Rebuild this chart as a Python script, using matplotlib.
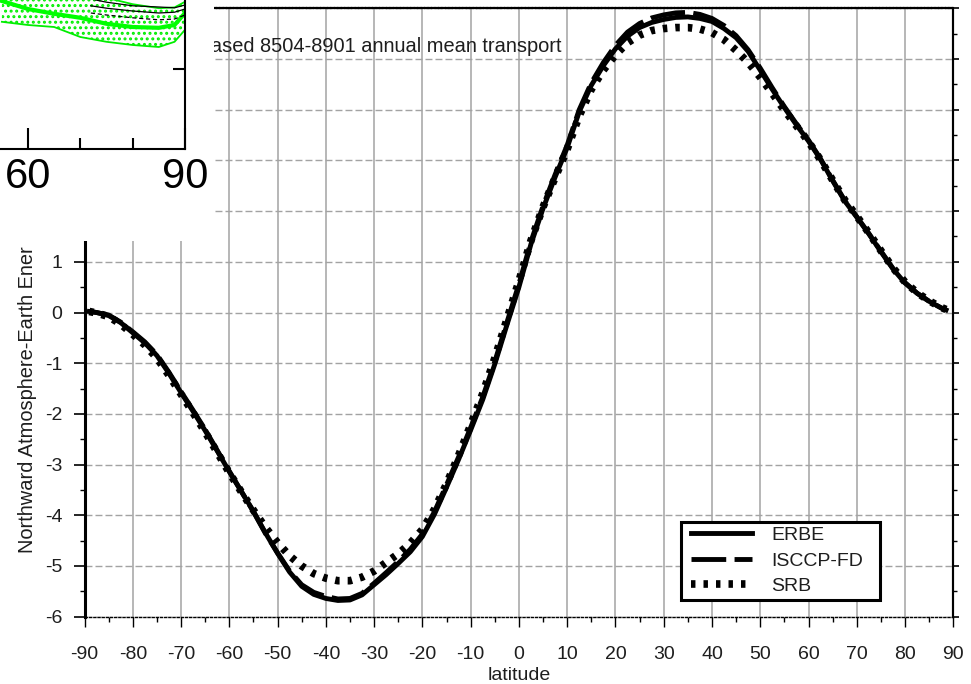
import numpy as np
import matplotlib
matplotlib.use("Agg")
import matplotlib.pyplot as plt
from matplotlib.lines import Line2D
from matplotlib.legend_handler import HandlerLine2D
from matplotlib.ticker import MultipleLocator, FixedLocator, NullFormatter

plt.rcParams["font.family"] = ["Liberation Sans", "DejaVu Sans"]
plt.rcParams["lines.scale_dashes"] = False
plt.rcParams["axes.unicode_minus"] = False
plt.rcParams["hatch.linewidth"] = 1.4

# ---- main panel data: northward atmosphere-earth energy transport (PW) ----
latitude = [-89, -87.5, -85, -82.5, -80, -77.5, -75, -72.5, -70, -67.5,
            -65, -62.5, -60, -57.5, -55, -52.5, -50, -47.5, -45, -42.5,
            -40, -37.5, -35, -32.5, -30, -27.5, -25, -22.5, -20, -17.5,
            -15, -12.5, -10, -7.5, -5, -2.5, 0, 2.5, 5, 7.5,
            10, 12.5, 15, 17.5, 20, 22.5, 25, 27.5, 30, 32.5,
            35, 37.5, 40, 42.5, 45, 47.5, 50, 52.5, 55, 57.5,
            60, 62.5, 65, 67.5, 70, 72.5, 75, 77.5, 80, 82.5,
            85, 87.5, 88.5]
erbe = [0.02, 0.00, -0.06, -0.20, -0.40, -0.60, -0.85, -1.20, -1.58, -1.95,
        -2.33, -2.73, -3.14, -3.53, -3.92, -4.35, -4.75, -5.12, -5.40, -5.56,
        -5.64, -5.68, -5.67, -5.57, -5.37, -5.17, -4.95, -4.72, -4.42, -3.98,
        -3.45, -2.90, -2.32, -1.72, -1.02, -0.25, 0.50, 1.35, 2.05, 2.67,
        3.25, 3.96, 4.48, 4.87, 5.20, 5.45, 5.62, 5.72, 5.78, 5.82,
        5.83, 5.80, 5.74, 5.60, 5.42, 5.15, 4.78, 4.40, 4.04, 3.70,
        3.38, 3.02, 2.60, 2.20, 1.88, 1.55, 1.20, 0.86, 0.58, 0.38,
        0.22, 0.09, 0.05]
isccp_fd = [0.02, 0.00, -0.05, -0.19, -0.38, -0.58, -0.83, -1.18, -1.56, -1.93,
            -2.31, -2.72, -3.13, -3.53, -3.93, -4.36, -4.74, -5.10, -5.37, -5.52,
            -5.60, -5.65, -5.64, -5.54, -5.34, -5.13, -4.91, -4.67, -4.37, -3.93,
            -3.40, -2.85, -2.27, -1.67, -0.97, -0.20, 0.56, 1.40, 2.10, 2.72,
            3.30, 4.00, 4.53, 4.93, 5.27, 5.53, 5.70, 5.81, 5.87, 5.91,
            5.92, 5.88, 5.80, 5.66, 5.46, 5.18, 4.82, 4.43, 4.06, 3.72,
            3.40, 3.03, 2.61, 2.21, 1.89, 1.56, 1.21, 0.87, 0.59, 0.38,
            0.22, 0.09, 0.05]
srb = [0.02, -0.01, -0.08, -0.23, -0.43, -0.64, -0.90, -1.24, -1.61, -1.98,
       -2.36, -2.76, -3.16, -3.54, -3.90, -4.24, -4.54, -4.80, -5.00, -5.15,
       -5.24, -5.29, -5.29, -5.22, -5.10, -4.93, -4.76, -4.55, -4.28, -3.88,
       -3.38, -2.82, -2.22, -1.60, -0.90, -0.14, 0.62, 1.42, 2.08, 2.66,
       3.22, 3.88, 4.40, 4.78, 5.08, 5.32, 5.47, 5.56, 5.60, 5.62,
       5.62, 5.59, 5.52, 5.38, 5.17, 4.93, 4.64, 4.32, 3.99, 3.68,
       3.37, 3.01, 2.61, 2.22, 1.90, 1.57, 1.22, 0.88, 0.60, 0.39,
       0.23, 0.10, 0.06]
series_names = ["ERBE", "ISCCP-FD", "SRB"]
x_ticks = list(range(-90, 91, 10))
y_ticks = list(range(-6, 7))

# ---- small overlapping panel (high-latitude detail) ----
inset_lat = [55, 60, 65, 70, 75, 80, 85, 88, 90]
inset_mean = [3.70, 3.50, 3.38, 3.28, 3.13, 3.05, 3.03, 3.10, 3.40]
inset_low = [3.18, 3.10, 3.05, 2.80, 2.68, 2.60, 2.55, 2.68, 2.98]
inset_high = [4.40, 4.30, 4.15, 3.95, 3.78, 3.62, 3.52, 3.54, 3.68]
inset_lat_b = [72, 75, 80, 85, 88, 90]
inset_black1 = [3.75, 3.67, 3.58, 3.55, 3.53, 3.60]
inset_black2 = [3.58, 3.52, 3.45, 3.40, 3.42, 3.50]
inset_black3 = [3.40, 3.35, 3.28, 3.23, 3.25, 3.35]
inset_xticks = [60, 90]
inset_xminor = [70, 80]

W, H = 971, 684
fig = plt.figure(figsize=(W / 100, H / 100), dpi=100)


def px_box(x0, y0, x1, y1):
    """Pixel box (origin top-left) -> figure-fraction rect."""
    return [x0 / W, 1 - y1 / H, (x1 - x0) / W, (y1 - y0) / H]


TXT = "#1e1e1e"
GRID = "#a3a3a3"
FS = 14

ax = fig.add_axes(px_box(84.5, 8.3, 953.3, 616.7))
ax.set_xlim(-90, 90)
ax.set_ylim(-6, 6)

ax.xaxis.set_major_locator(FixedLocator(x_ticks))
ax.xaxis.set_minor_locator(MultipleLocator(5))
ax.yaxis.set_major_locator(FixedLocator(y_ticks))
ax.yaxis.set_minor_locator(MultipleLocator(0.5))

ax.xaxis.grid(True, which="major", color=GRID, lw=1.1, ls="-")
ax.yaxis.grid(True, which="major", color=GRID, lw=1.0, ls=(0, (5, 2.2)))
ax.set_axisbelow(True)

ax.tick_params(axis="x", which="major", direction="out", length=7, width=1.0,
               labelsize=FS, labelcolor=TXT, pad=14, top=False)
ax.tick_params(axis="x", which="minor", direction="out", length=3.5, width=1.0,
               top=False)
ax.tick_params(axis="y", which="major", direction="out", length=8, width=1.2,
               labelsize=FS, labelcolor=TXT, pad=8, right=False)
ax.tick_params(axis="y", which="minor", direction="out", length=3.6, width=1.0,
               right=False)

ax.spines["left"].set_linewidth(2.2)
ax.spines["right"].set_linewidth(1.5)
ax.spines["bottom"].set_linewidth(1.0)
ax.spines["bottom"].set_linestyle((0, (1.5, 1.5)))
ax.spines["top"].set_linewidth(1.6)
ax.spines["top"].set_linestyle((0, (1.5, 1.0)))

sec = ax.secondary_yaxis("right")
sec.yaxis.set_major_locator(FixedLocator(y_ticks))
sec.yaxis.set_minor_locator(MultipleLocator(0.5))
sec.yaxis.set_major_formatter(NullFormatter())
sec.tick_params(which="major", direction="out", length=4.3, width=1.2)
sec.tick_params(which="minor", direction="out", length=3.0, width=1.0)
sec.spines["right"].set_linewidth(1.5)

l1, = ax.plot(latitude, erbe, color="black", lw=3.5, solid_joinstyle="round")
l2, = ax.plot(latitude, isccp_fd, color="black", lw=3.5,
              ls=(0, (25, 6)), dash_capstyle="butt")
l3, = ax.plot(latitude, srb, color="black", lw=5.5,
              ls=(0, (3.2, 5.8)), dash_capstyle="butt")

ax.text(8.9, 5.14, "ERBE based 8504-8901 annual mean transport",
        ha="right", va="baseline", fontsize=14.4, color=TXT)

ax.set_xlabel("latitude", fontsize=FS, color=TXT, labelpad=3.2)
fig.text(28 / W, 1 - 553 / H, "Northward Atmosphere-Earth Ener",
         rotation=90, ha="center", va="bottom", fontsize=14.4, color=TXT)

leg = ax.legend([l1, l2, l3], series_names, loc="upper left",
                bbox_to_anchor=(680.7 / W, 1 - 607.3 / H, 199.3 / W, 85.6 / H),
                bbox_transform=fig.transFigure, mode="expand",
                fontsize=FS, frameon=True, fancybox=False, framealpha=1,
                edgecolor="black", borderpad=0.25, borderaxespad=0,
                handlelength=3.4, handletextpad=1.0, labelspacing=0.4,
                handler_map={Line2D: HandlerLine2D(xpad=0.3)})
leg.get_frame().set_linewidth(2.2)
for t in leg.get_texts():
    t.set_color(TXT)

# ---- white panel holding the high-latitude detail plot ----
bg = fig.add_axes(px_box(0, 0, 214, 241))
bg.set_zorder(10)
bg.patch.set_facecolor("white")
bg.set_xticks([])
bg.set_yticks([])
for s in bg.spines.values():
    s.set_visible(False)

ins = fig.add_axes(px_box(-24.3, -31, 185, 149))
ins.set_zorder(11)
ins.patch.set_alpha(0)
ins.set_xlim(50, 90)
ins.set_ylim(0, 4.5)
ins.fill_between(inset_lat, inset_low, inset_high, facecolor="none",
                 edgecolor="#00ee00", hatch="...", linewidth=0)
ins.plot(inset_lat, inset_low, color="#00ee00", lw=1.3)
ins.plot(inset_lat, inset_high, color="#00ee00", lw=1.3)
ins.plot(inset_lat, inset_mean, color="#00ff00", lw=3)
ins.plot(inset_lat_b, inset_black1, color="black", lw=0.9)
ins.plot(inset_lat_b, inset_black2, color="black", lw=0.9)
ins.plot(inset_lat_b, inset_black3, color="black", lw=0.9, ls=(0, (3, 2)))
ins.xaxis.set_major_locator(FixedLocator(inset_xticks))
ins.xaxis.set_minor_locator(FixedLocator(inset_xminor))
ins.yaxis.set_major_locator(FixedLocator([2, 4]))
ins.tick_params(axis="x", which="major", direction="in", length=15, width=1.5,
                labelsize=30, labelcolor="black", pad=5.6)
ins.tick_params(axis="x", which="minor", direction="in", length=8, width=1.5)
ins.tick_params(axis="y", which="major", direction="in", length=9, width=1.5,
                left=True, right=True, labelleft=False, labelright=False)
for s in ins.spines.values():
    s.set_linewidth(1.5)

fig.savefig("out.png", dpi=100)
